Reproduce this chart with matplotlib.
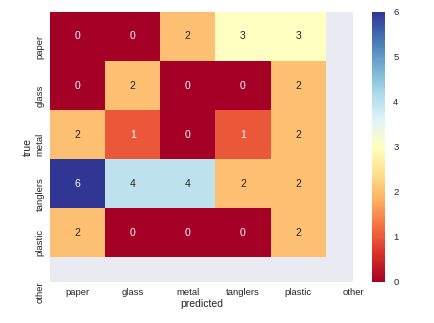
import numpy as np
import matplotlib
matplotlib.use('Agg')
import matplotlib.pyplot as plt
import matplotlib.transforms as mtrans
import seaborn as sns

labels = ['paper', 'glass', 'metal', 'tanglers', 'plastic', 'other']
paper = [0, 0, 2, 3, 3]
glass = [0, 2, 0, 0, 2]
metal = [2, 1, 0, 1, 2]
tanglers = [6, 4, 4, 2, 2]
plastic = [2, 0, 0, 0, 2]

cm = np.array([paper, glass, metal, tanglers, plastic])

sns.set_style('darkgrid')
plt.rcParams['font.family'] = ['Liberation Sans', 'DejaVu Sans']

fig = plt.figure(figsize=(4.35, 3.23), dpi=100)
ax = fig.add_axes([0.115, 0.127, 0.697, 0.836])
cax = fig.add_axes([0.855, 0.127, 0.030, 0.836])

sns.heatmap(cm, ax=ax, cbar_ax=cax, cmap='RdYlBu', vmin=0, vmax=6,
            annot=True, fmt='d', annot_kws={'fontsize': 7.5})

ticks = np.arange(len(labels)) + 0.5
ax.set_xticks(ticks)
ax.set_xticklabels(labels, fontsize=6.8, color='#262626', rotation=0)
ax.set_yticks(ticks)
ax.set_yticklabels(labels, fontsize=6.8, color='#262626', rotation=90, va='center')
ax.set_xlim(0, 5.5)
ax.set_ylim(5.5, 0)
ax.grid(False)
ax.tick_params(length=0, pad=4)

# y labels sit a little below the row centres in the original
off = mtrans.ScaledTranslation(0, -0.10, fig.dpi_scale_trans)
for t in ax.get_yticklabels():
    t.set_transform(t.get_transform() + off)

ax.set_xlabel('predicted', fontsize=7.5, color='#262626', labelpad=2)
ax.set_ylabel('true', fontsize=7.5, color='#262626', labelpad=2)

cax.tick_params(labelsize=6.8, length=0, pad=6, labelcolor='#262626')

fig.savefig('out.png', dpi=100)
